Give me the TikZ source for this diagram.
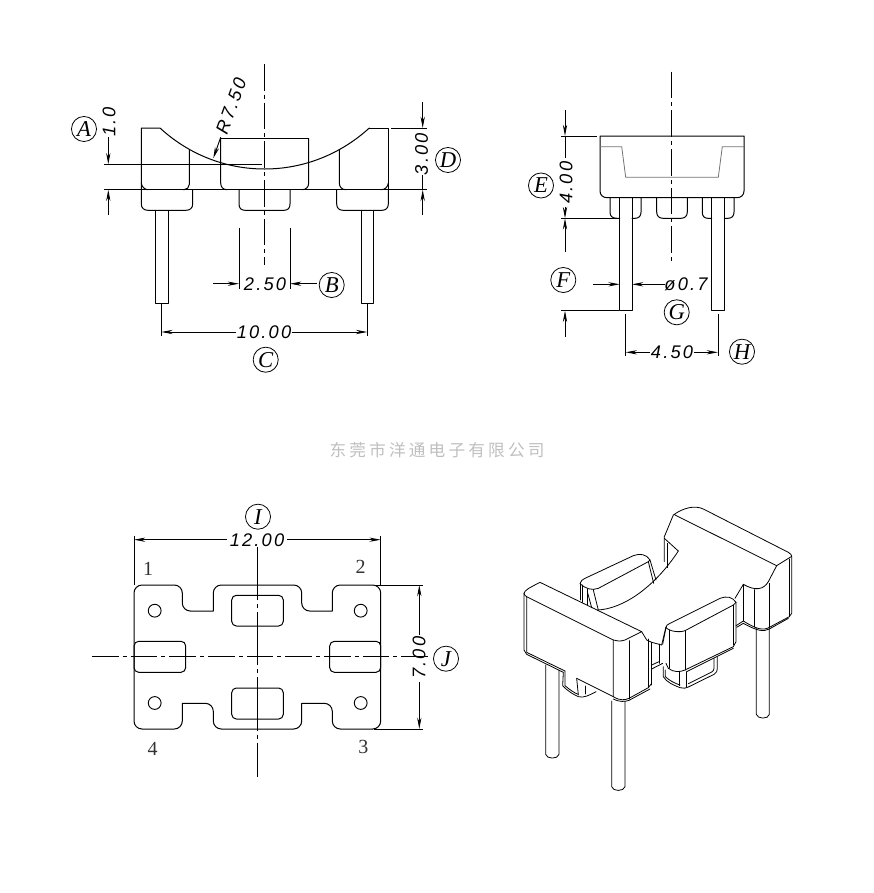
\documentclass[tikz,border=0pt]{standalone}
\usepackage{fontspec}
\usetikzlibrary{arrows.meta}
\setmainfont{Liberation Serif}
\newfontfamily\dimfont[LetterSpace=12]{Liberation Sans}
\newfontfamily\cjkfont[LetterSpace=19]{Noto Sans CJK SC}
\tikzset{
  part/.style={line width=0.75pt,line cap=round,line join=round},
  thin part/.style={line width=0.6pt,line cap=round,line join=round},
  ext/.style={line width=0.7pt},
  dimarrow/.style={line width=0.7pt,-{Stealth[length=8.5pt,width=3.2pt]}},
  axis/.style={line width=0.7pt,dash pattern=on 20pt off 3pt on 3pt off 3pt},
  dimtext/.style={inner sep=0pt,font=\dimfont\itshape\fontsize{13.7}{15}\selectfont},
  balloon/.style={circle,draw,line width=0.6pt,minimum size=18.8pt,inner sep=0pt,font=\itshape\fontsize{17}{18}\selectfont},
  pinno/.style={inner sep=0pt,text=black!80,font=\fontsize{15}{16}\selectfont},
  mark text/.style={inner sep=0pt,text=black!25,font=\cjkfont\fontsize{12.5}{14}\selectfont}
}
\begin{document}
\begin{tikzpicture}[x=0.75pt,y=-0.75pt]
\useasboundingbox (0,0) rectangle (874,893);
% ---------- front view
\draw[part] (189.3,149.5)--(189.3,183)[rounded corners=4pt]--(189.3,189.7)--(183,189.7)[sharp corners];
\draw[part] (141.3,183) .. controls (141.6,187) and (145,189.7) .. (148,189.7);
\draw[part] (339.3,149.5)--(339.3,183) .. controls (339.3,187) and (342,189.7) .. (346,189.7);
\draw[part] (388.3,183) .. controls (388,187) and (385,189.7) .. (381,189.7);
\draw[part] (369.3,128)--(388.3,128)--(388.3,189.7);
\draw[part] (141.3,189.7)--(141.3,128)--(160,128) .. controls (188.5,154.3) and (225.5,169) .. (264.5,169) .. controls (303.5,169) and (340.5,154.3) .. (369.3,128);
\draw[part] (220.7,138.7)--(308.7,138.7);
\draw[part] (220.7,138.7)--(220.7,183) .. controls (220.7,187) and (223,189.7) .. (227,189.7);
\draw[part] (308.7,138.7)--(308.7,183) .. controls (308.7,187) and (306,189.7) .. (302,189.7);
\draw[part] (141.3,189.7)--(141.3,204) .. controls (141.3,208) and (144,210.3) .. (148,210.3)--(186,210.3) .. controls (190,210.3) and (192.7,208) .. (192.7,204)--(192.7,189.7);
\draw[part] (239,189.7)--(239,204) .. controls (239,208) and (241,210.3) .. (245,210.3)--(284,210.3) .. controls (288,210.3) and (290,208) .. (290,204)--(290,189.7);
\draw[part] (336.7,189.7)--(336.7,204) .. controls (336.7,208) and (339,210.3) .. (343,210.3)--(382,210.3) .. controls (386,210.3) and (388.3,208) .. (388.3,204)--(388.3,189.7);
\draw[part] (155.7,210.3) rectangle (168.3,303);
\draw[part] (361,210.3) rectangle (373.7,303);
\draw[ext] (104,164.3)--(261.7,164.3);
\draw[ext] (104,189.7)--(426.7,189.7);
\draw[axis] (264.3,64)--(264.3,265);
\draw[ext] (239,227.7)--(239,289);
\draw[ext] (290,227.7)--(290,289);
\draw[dimarrow] (213,283.7)--(239,283.7);
\draw[dimarrow] (316.7,283.7)--(290,283.7);
\node[dimtext] (d250) at (265,284) {2.50};
\node[balloon] (B) at (331.7,285) {B};
\draw[ext] (161.3,303)--(161.3,336);
\draw[ext] (367.3,303)--(367.3,336);
\node[dimtext] (d1000) at (264,332) {10.00};
\draw[dimarrow] (235.7,332)--(161.3,332);
\draw[dimarrow] (291.7,332)--(367.3,332);
\node[balloon] (C) at (265.7,359.7) {C};
\node[balloon] (A) at (84,129) {A};
\node[dimtext,rotate=90] (d10) at (109,122) {1.0};
\draw[dimarrow] (108.3,137)--(108.3,164.3);
\draw[dimarrow] (108.3,215)--(108.3,189.7);
\node[dimtext,rotate=90] (d300) at (421.5,154) {3.00};
\draw[dimarrow] (422.7,102)--(422.7,128);
\draw[dimarrow] (422.7,215)--(422.7,189.7);
\draw[ext] (422.7,174.7)--(422.7,189.7);
\draw[ext] (391,128)--(426.7,128);
\node[balloon] (D) at (448,160) {D};
\node[dimtext,rotate=70] (r750) at (231,106) {R7.50};
\draw[dimarrow] (220.7,137.3)--(213.3,158.3);
% ---------- side view
\draw[part] (600,136)--(744,136)--(744,191) .. controls (744,195) and (741,197.7) .. (737,197.7)--(607,197.7) .. controls (603,197.7) and (600,195) .. (600,191)--cycle;
\draw[line width=0.6pt,black!55] (600,146.7)--(621.7,146.7)--(625.7,177.3)--(718.3,177.3)--(722.3,146.7)--(744,146.7);
\draw[part] (610,197.7)--(610,212) .. controls (610,216) and (612,218.3) .. (617,218.3)--(619.7,218.3);
\draw[part] (632,218.3)--(635,218.3) .. controls (639,218.3) and (641,216) .. (641,212)--(641,197.7);
\draw[part] (656.7,197.7)--(656.7,212) .. controls (656.7,216) and (659,218.3) .. (663,218.3)--(681,218.3) .. controls (685,218.3) and (687.3,216) .. (687.3,212)--(687.3,197.7);
\draw[part] (702.3,197.7)--(702.3,212) .. controls (702.3,216) and (704,218.3) .. (708,218.3)--(711.7,218.3);
\draw[part] (724.3,218.3)--(728,218.3) .. controls (732,218.3) and (734,216) .. (734,212)--(734,197.7);
\draw[part] (619.7,197.7) rectangle (632,310.3);
\draw[part] (711.7,197.7) rectangle (724.3,310.3);
\draw[axis] (671.7,71.7)--(671.7,261);
\draw[ext] (561,136)--(596.7,136);
\draw[ext] (561,218.3)--(619.7,218.3);
\draw[ext] (561,310.7)--(619,310.7);
\draw[dimarrow] (565,110)--(565,136);
\draw[ext] (565,136)--(565,158);
\node[dimtext,rotate=90] (d400) at (566,182.7) {4.00};
\draw[dimarrow] (565,206.7)--(565,218.3);
\draw[dimarrow] (565,251.7)--(565,218.3);
\draw[dimarrow] (565,336.7)--(565,310.7);
\node[balloon] (E) at (541,185.5) {E};
\node[balloon] (F) at (563.3,280) {F};
\draw[dimarrow] (593.3,284.3)--(619.7,284.3);
\draw[dimarrow] (665,284.3)--(632,284.3);
\node[dimtext] (d07) at (686,284) {ø0.7};
\node[balloon] (G) at (676.7,312.3) {G};
\draw[ext] (625.7,314)--(625.7,356);
\draw[ext] (718,314)--(718,356);
\node[dimtext] (d450) at (672,352.3) {4.50};
\draw[dimarrow] (650,352.3)--(625.7,352.3);
\draw[dimarrow] (694,352.3)--(718,352.3);
\node[balloon] (H) at (742,351.7) {H};
% ---------- watermark
\node[mark text] (wm) at (437,450) {东莞市洋通电子有限公司};
% ---------- bottom view
\draw[part,rounded corners=6pt] (134,620)--(134,585)--(182.3,585)--(182.3,611)[sharp corners]--(213.3,611)[rounded corners=6pt]--(213.3,585)--(301.7,585)--(301.7,611)[sharp corners]--(332.3,611)[rounded corners=6pt]--(332.3,585)--(380.7,585)--(380.7,729)--(332.3,729)--(332.3,703.3)[sharp corners]--(301.7,703.3)[rounded corners=6pt]--(301.7,729)--(213.3,729)--(213.3,703.3)[sharp corners]--(182.3,703.3)[rounded corners=6pt]--(182.3,729)--(134,729)--(134,620);
\foreach \hx/\hy/\hn in {154.7/610.7/ha,360.7/610.7/hb,360.7/703/hc,154.7/703/hd}
  \node[circle,draw,line width=0.7pt,minimum size=9.6pt,inner sep=0pt] (\hn) at (\hx,\hy) {};
\draw[part,rounded corners=3.5pt] (231.7,595.3) rectangle (283.3,626);
\draw[part,rounded corners=3.5pt] (231.7,688) rectangle (283.3,719);
\draw[part,rounded corners=3.5pt] (134,641.3) rectangle (185.7,672.3);
\draw[part,rounded corners=3.5pt] (329.7,641.3) rectangle (380.7,672.3);
\draw[ext,dash pattern=on 40pt off 3pt on 3pt off 3pt] (257.3,546.7)--(257.3,776.7);
\draw[axis] (92,656.7)--(430,656.7);
\draw[ext] (134,535.7)--(134,585);
\draw[ext] (380.7,535.7)--(380.7,585);
\node[dimtext] (d1200) at (257,540) {12.00};
\draw[dimarrow] (227,539.7)--(134,539.7);
\draw[dimarrow] (287.3,539.7)--(380.7,539.7);
\node[balloon] (I) at (258,516.7) {I};
\draw[ext] (374,585)--(423.3,585);
\draw[ext] (374,729)--(423.3,729);
\node[dimtext,rotate=90] (d700) at (419,657.7) {7.00};
\draw[dimarrow] (419.3,635)--(419.3,585);
\draw[dimarrow] (419.3,681.7)--(419.3,729);
\node[balloon] (J) at (446,658.7) {J};
\node[pinno] (p1) at (148,569) {1};
\node[pinno] (p2) at (360.7,567) {2};
\node[pinno] (p3) at (363.3,746.7) {3};
\node[pinno] (p4) at (152.7,748.7) {4};
% ---------- isometric view (coordinates in 1/3 px)
\begin{scope}[shift={(510,495)},x=0.25pt,y=-0.25pt,thin part]
% pins
\draw (305,618)--(305,875) .. controls (308,890) and (342,890) .. (345,875)--(345,618);
\draw (107,510)--(107,778) .. controls (110,793) and (144,793) .. (147,778)--(147,525);
\draw (739,400)--(739,658) .. controls (742,673) and (776,673) .. (778,658)--(778,395);
% back-right block
\draw (490,60) .. controls (520,38) and (555,30) .. (580,42)--(835,172) .. controls (842,176) and (845,180) .. (845,184)--(800,212)--(495,60);
\draw (490,60)--(463,125)--(463,200);
\draw (472,145)--(472,218);
\draw (463,130)--(505,168);
\draw (800,212)--(775,260) .. controls (760,285) and (735,288) .. (700,268)--(675,310);
\draw (845,184)--(845,355)--(838,365)--(780,396) .. controls (760,408) and (740,403) .. (700,378)--(678,392);
\draw (838,192)--(838,365);
\draw (700,268)--(700,378);
\draw (733,284)--(733,396);
\draw (778,265)--(778,396);
\draw (835,370)--(778,402) .. controls (760,411) and (742,408) .. (700,385)--(680,397);
% arc
\draw (262,345) .. controls (340,342) and (435,275) .. (505,168);
% back-left block
\draw (210,266) .. controls (212,258) and (218,252) .. (225,250)--(370,182) .. controls (390,174) and (410,178) .. (420,195)--(415,200)--(265,280) .. controls (245,288) and (225,280) .. (210,266);
\draw (420,195)--(438,255);
\draw (415,200)--(431,265);
\draw (210,266)--(210,315);
\draw (218,270)--(218,322);
\draw (232,282)--(232,330);
\draw (232,290)--(245,338);
\draw (250,285)--(265,345);
% front-left block
\draw (42,295) .. controls (45,285) and (55,280) .. (90,262)--(395,410)--(345,435) .. controls (330,440) and (320,438) .. (310,435)--(50,305) .. controls (46,302) and (42,300) .. (42,295);
\draw (42,295)--(42,465)--(50,478)--(160,532);
\draw (50,305)--(50,472)--(165,528);
\draw (160,532)--(158,572) .. controls (175,590) and (190,598) .. (205,605) .. controls (220,610) and (240,600) .. (258,590);
\draw (165,528)--(165,572) .. controls (180,585) and (195,595) .. (205,598);
\draw (200,550)--(310,605);
\draw (200,550)--(205,600);
\draw (225,573)--(225,597);
\draw (310,435)--(310,605) .. controls (330,618) and (345,615) .. (357,610)--(415,578)--(425,565);
\draw (310,612) .. controls (330,622) and (345,620) .. (357,616)--(420,582);
\draw (357,437)--(357,612);
\draw (395,410)--(410,435)--(425,442)--(455,450)--(468,395);
\draw (415,432)--(415,578);
\draw (425,442)--(425,570);
\draw (447,447)--(447,505);
\draw (425,510)--(447,500);
\draw (425,522)--(458,505);
% front-right small block
\draw (468,398) .. controls (468,392) and (472,388) .. (480,385)--(630,310) .. controls (650,302) and (668,306) .. (678,322)--(670,330)--(525,407) .. controls (510,413) and (480,410) .. (468,398);
\draw (458,448)--(468,398);
\draw (678,322)--(678,440)--(670,455)--(525,525) .. controls (510,532) and (490,532) .. (475,520)--(468,505);
\draw (670,330)--(670,450);
\draw (477,405)--(477,520);
\draw (525,407)--(525,525);
\draw (670,460)--(530,530);
\draw (460,515)--(460,545) .. controls (470,562) and (490,570) .. (510,578) .. controls (520,581) and (528,580) .. (535,576)--(612,538) .. controls (620,533) and (622,528) .. (622,520)--(622,485);
\draw (466,525)--(466,545) .. controls (480,558) and (495,565) .. (510,570);
\draw (508,530)--(508,572);
\draw (530,530)--(530,576);
\draw (612,490)--(612,520) .. controls (612,525) and (610,528) .. (605,531)--(535,566);
\end{scope}
\end{tikzpicture}
\end{document}
